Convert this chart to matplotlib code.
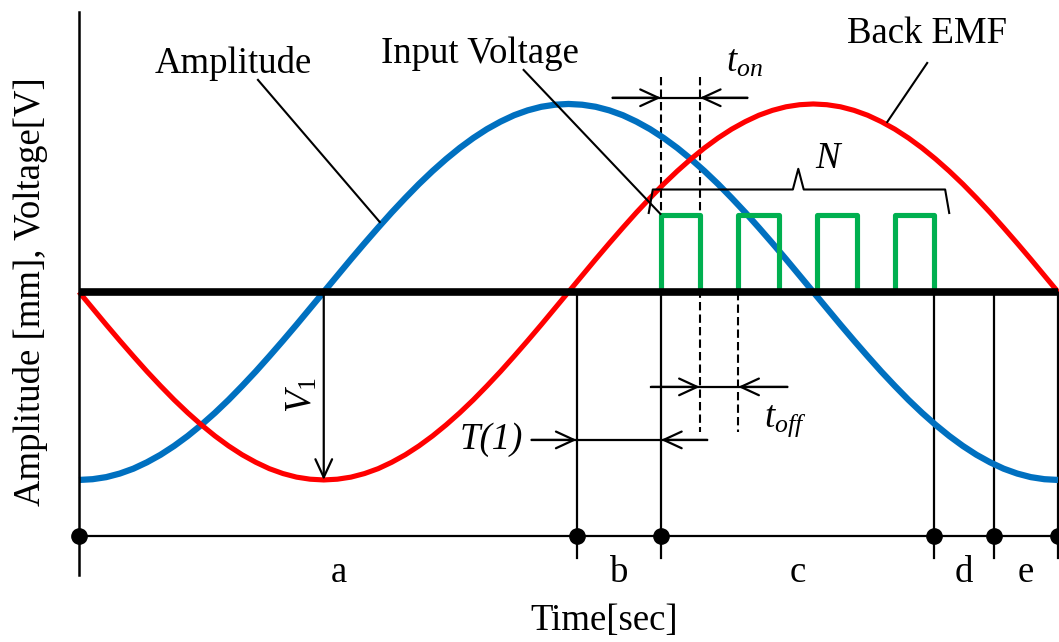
import numpy as np
import matplotlib.pyplot as plt

plt.rcParams['font.family'] = ['Liberation Serif', 'DejaVu Serif']
plt.rcParams['mathtext.fontset'] = 'custom'
plt.rcParams['mathtext.rm'] = 'Liberation Serif'
plt.rcParams['mathtext.it'] = 'Liberation Serif:italic'

# electrical angle [deg] and normalised curve values
theta = np.arange(0, 361, 5)
amplitude = [-1.0, -.996, -.985, -.966, -.94, -.906, -.866, -.819, -.766,
             -.707, -.643, -.574, -.5, -.423, -.342, -.259, -.174, -.087, 0.0,
             .087, .174, .259, .342, .423, .5, .574, .643, .707, .766, .819,
             .866, .906, .94, .966, .985, .996, 1.0,
             .996, .985, .966, .94, .906, .866, .819, .766, .707, .643, .574,
             .5, .423, .342, .259, .174, .087, 0.0,
             -.087, -.174, -.259, -.342, -.423, -.5, -.574, -.643, -.707,
             -.766, -.819, -.866, -.906, -.94, -.966, -.985, -.996, -1.0]
back_emf = [0.0, -.087, -.174, -.259, -.342, -.423, -.5, -.574, -.643, -.707,
            -.766, -.819, -.866, -.906, -.94, -.966, -.985, -.996, -1.0,
            -.996, -.985, -.966, -.94, -.906, -.866, -.819, -.766, -.707,
            -.643, -.574, -.5, -.423, -.342, -.259, -.174, -.087, 0.0,
            .087, .174, .259, .342, .423, .5, .574, .643, .707, .766, .819,
            .866, .906, .94, .966, .985, .996, 1.0,
            .996, .985, .966, .94, .906, .866, .819, .766, .707, .643, .574,
            .5, .423, .342, .259, .174, .087, 0.0]

# input voltage pulses
pulse_on = [214, 242.4, 271.4, 300.2]
pulse_off = [228.3, 257.5, 286, 314.3]
pulse_level = 0.41

# time segments
seg_bounds = [0, 183, 214, 314.3, 336.5, 360]
seg_labels = ['a', 'b', 'c', 'd', 'e']

BLUE = '#0070C0'
RED = '#FF0000'
GREEN = '#00B050'
FS = 26.5

fig = plt.figure(figsize=(10.59, 6.42), dpi=100)
ax = fig.add_axes([0, 0, 1, 1])
ax.set_xlim(-29.05, 360.37)
ax.set_ylim(-1.862, 1.553)
ax.axis('off')

line_y = -1.298  # timeline height

# curves
ax.plot(theta, amplitude, color=BLUE, lw=4.5, solid_capstyle='butt', zorder=3)
ax.plot(theta, back_emf, color=RED, lw=3.7, solid_capstyle='butt', zorder=3)

# pulses
px, py = [], []
for on, off in zip(pulse_on, pulse_off):
    px += [on, on, off, off]
    py += [0, pulse_level, pulse_level, 0]
ax.plot(px, py, color=GREEN, lw=3.7, zorder=4)

# zero line and vertical axis
ax.plot([0, 360], [0, 0], color='black', lw=5.5, solid_capstyle='butt', zorder=5)
ax.plot([0, 0], [1.49, -1.505], color='black', lw=1.8, zorder=5)

# timeline with segment boundaries
ax.plot([0, 360], [line_y, line_y], color='black', lw=1.6, zorder=5)
for b in seg_bounds[1:]:
    ax.plot([b, b], [0, -1.415], color='black', lw=1.6, zorder=2)
ax.plot(seg_bounds, [line_y] * len(seg_bounds), 'o', color='black',
        ms=11, zorder=6)
for i, lab in enumerate(seg_labels):
    ax.text((seg_bounds[i] + seg_bounds[i + 1]) / 2 + (4 if i == 0 else 0),
            -1.543, lab, fontsize=FS, ha='center', va='baseline')

# dashed guide lines
dash = dict(color='black', lw=1.5, ls=(0, (4, 2)), zorder=2)
ax.plot([pulse_on[0]] * 2, [1.144, pulse_level], **dash)
ax.plot([pulse_off[0]] * 2, [1.144, -0.745], **dash)
ax.plot([pulse_on[1]] * 2, [0, -0.745], **dash)

arrow = dict(arrowstyle='->,head_length=0.65,head_width=0.3', lw=1.6,
             color='black', shrinkA=0, shrinkB=0, mutation_scale=20)


def dimension(x1, x2, y, ext_l, ext_r):
    ax.plot([ext_l, ext_r], [y, y], color='black', lw=1.6, zorder=5)
    ax.annotate('', xy=(x1, y), xytext=(ext_l, y), arrowprops=arrow, zorder=5)
    ax.annotate('', xy=(x2, y), xytext=(ext_r, y), arrowprops=arrow, zorder=5)


dimension(pulse_on[0], pulse_off[0], 1.033, 196.2, 245.8)
dimension(pulse_off[0], pulse_on[1], -0.505, 210.5, 260.5)
dimension(seg_bounds[1], seg_bounds[2], -0.787, 166.4, 231)

# V1 arrow
ax.annotate('', xy=(90, -1.0), xytext=(90, 0), arrowprops=arrow, zorder=5)
ax.text(82, -0.55, r'$V_1$', fontsize=FS, rotation=90,
        ha='center', va='center')

# leader lines and labels
thin = dict(color='black', lw=1.5, zorder=5)
ax.plot([65.8, 110.6], [1.128, 0.372], **thin)
ax.plot([163.5, 213.8], [1.181, 0.415], **thin)
ax.plot([311.9, 297.2], [1.218, 0.904], **thin)
ax.text(56.6, 1.165, 'Amplitude', fontsize=FS, ha='center', va='baseline')
ax.text(147.3, 1.218, 'Input Voltage', fontsize=FS, ha='center', va='baseline')
ax.text(311.7, 1.324, 'Back EMF', fontsize=FS, ha='center', va='baseline')

# brace over the pulses
bx0, bx1, bxm = 209.5, 320, 264.5
by, bh = 0.545, 0.42
ax.plot([bx0, bx0 + 1.5, bxm - 2, bxm, bxm + 2, bx1 - 1.5, bx1],
        [bh, by, by, 0.655, by, by, bh], color='black', lw=1.5, zorder=5)
ax.text(276, 0.66, r'$N$', fontsize=FS, ha='center', va='baseline')

ax.text(238, 1.17, r'$t_{on}$', fontsize=FS, ha='left', va='baseline')
ax.text(252, -0.718, r'$t_{off}$', fontsize=FS, ha='left', va='baseline')
ax.text(163.1, -0.787, 'T(1)', fontsize=FS, style='italic',
        ha='right', va='center')

# axis titles
ax.text(193.2, -1.798, 'Time[sec]', fontsize=FS, ha='center', va='baseline')
ax.text(-17.8, 0.0, 'Amplitude [mm], Voltage[V]', fontsize=FS, rotation=90,
        ha='center', va='center')

fig.savefig('out.png', dpi=100)
